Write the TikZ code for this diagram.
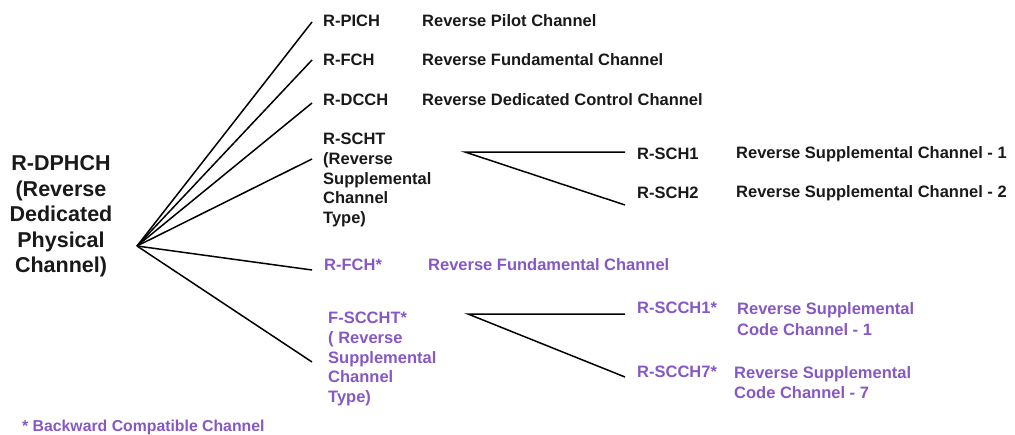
\documentclass[tikz,border=0pt]{standalone}
\usepackage{fontspec}
\setmainfont{Liberation Sans}
\definecolor{pur}{RGB}{133,88,196}
\definecolor{ink}{RGB}{25,25,25}
\begin{document}
\begin{tikzpicture}[x=1pt,y=-1pt,
  lbl/.style={font=\fontsize{16.5}{19.7}\selectfont\bfseries, text=ink, inner sep=0pt, anchor=west, align=left},
  blk/.style={lbl, anchor=north west},
  plbl/.style={lbl, text=pur},
  pblk/.style={blk, text=pur},
  conn/.style={draw=black, line width=1.5pt}]
\useasboundingbox (0,0) rectangle (1015,434);
% title
\node[font=\fontsize{21.5}{25.5}\selectfont\bfseries, text=ink, inner sep=0pt, anchor=north, align=center] (root) at (61,155.3)
  {R-DPHCH\\(Reverse\\Dedicated\\Physical\\Channel)};
\coordinate (hub) at (137,246);
% first level
\node[lbl] (pich) at (323,20.5) {R-PICH};
\node[lbl] (pichd) at (422,20.5) {Reverse Pilot Channel};
\node[lbl] (fch) at (323,60) {R-FCH};
\node[lbl] (fchd) at (422,60) {Reverse Fundamental Channel};
\node[lbl] (dcch) at (323,100) {R-DCCH};
\node[lbl] (dcchd) at (422,100) {Reverse Dedicated Control Channel};
\node[blk] (scht) at (323,133.1) {R-SCHT\\(Reverse\\Supplemental\\Channel\\Type)};
\node[plbl] (fchs) at (324,265) {R-FCH*};
\node[plbl] (fchsd) at (428,265) {Reverse Fundamental Channel};
\node[pblk] (sccht) at (328,312.1) {F-SCCHT*\\( Reverse\\Supplemental\\Channel\\Type)};
% second level
\node[lbl] (sch1) at (637,154) {R-SCH1};
\node[lbl] (sch1d) at (736,154) {Reverse Supplemental Channel - 1};
\node[lbl] (sch2) at (637,193) {R-SCH2};
\node[lbl] (sch2d) at (736,193) {Reverse Supplemental Channel - 2};
\node[plbl] (scch1) at (637,308) {R-SCCH1*};
\node[pblk,font=\fontsize{16.5}{21.5}\selectfont\bfseries] (scch1d) at (737,302.1) {Reverse Supplemental\\Code Channel - 1};
\node[plbl] (scch7) at (637,372) {R-SCCH7*};
\node[pblk,font=\fontsize{16.5}{20.5}\selectfont\bfseries] (scch7d) at (734,366.1) {Reverse Supplemental\\Code Channel - 7};
% footnote
\node[plbl,font=\fontsize{15.8}{18}\selectfont\bfseries] (note) at (22,427) {* Backward Compatible Channel};
% connector ends
\coordinate (e1) at (312,22);
\coordinate (e2) at (312,60);
\coordinate (e3) at (312,103);
\coordinate (e4) at (312,159);
\coordinate (e5) at (312,270);
\coordinate (e6) at (312,362);
\coordinate (b1) at (465,152);
\coordinate (b1a) at (625,152);
\coordinate (b1b) at (625,205);
\coordinate (b2) at (468,314);
\coordinate (b2a) at (625,314);
\coordinate (b2b) at (625,377);
\foreach \e in {e1,e2,e3,e4,e5,e6} \draw[conn] (hub) -- (\e);
\draw[conn] (b1a) -- (b1) -- (b1b);
\draw[conn] (b2a) -- (b2) -- (b2b);
\end{tikzpicture}
\end{document}
